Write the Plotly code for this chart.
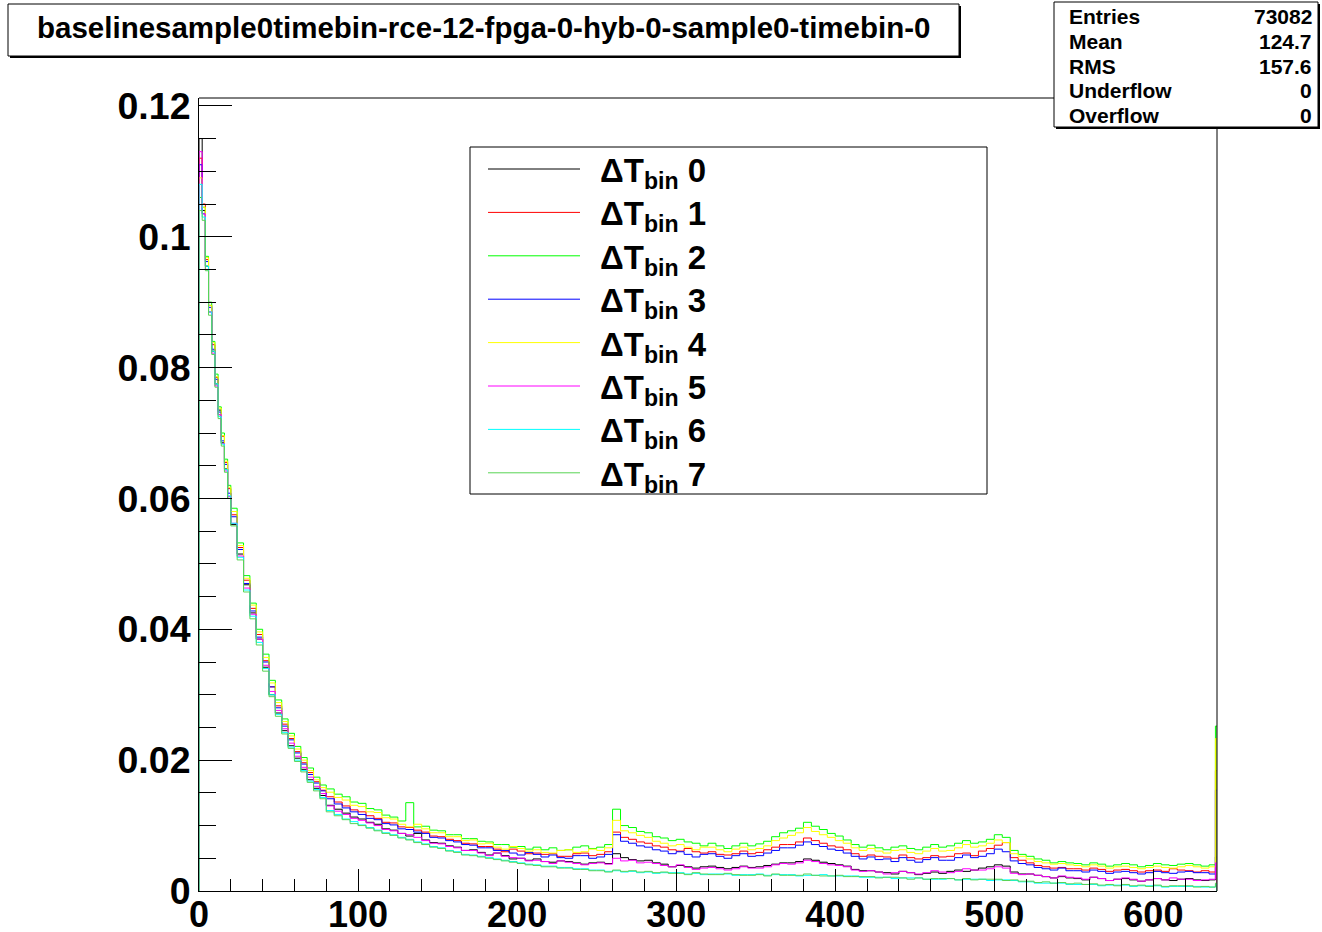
import plotly.graph_objects as go

# ---------------- data ----------------
EDGES = [0, 2, 4, 6, 8, 10, 12, 14, 16, 18, 20,
         24, 28, 32, 36, 40, 44, 48, 52, 56, 60, 64, 68, 72, 76, 80,
         85, 90, 95, 100, 105, 110, 115, 120, 125, 130, 135, 140, 145, 150, 155, 160,
         165, 170, 175, 180, 185, 190, 195, 200, 205, 210, 215, 220, 225, 230, 235, 240,
         245, 250, 255, 260, 265, 270, 275, 280, 285, 290, 295, 300, 305, 310, 315, 320,
         325, 330, 335, 340, 345, 350, 355, 360, 365, 370, 375, 380, 385, 390, 395, 400,
         405, 410, 415, 420, 425, 430, 435, 440, 445, 450, 455, 460, 465, 470, 475, 480,
         485, 490, 495, 500, 505, 510, 515, 520, 525, 530, 535, 540, 545, 550, 555, 560,
         565, 570, 575, 580, 585, 590, 595, 600, 605, 610, 615, 620, 625, 630, 635, 639, 640]

UNIT = 1e-4  # values below are in units of 1e-4

DT0 = [1150, 1040, 955, 895, 825, 775, 735, 685, 645, 600,
       560, 515, 468, 425, 385, 342, 300, 272, 245, 222, 203, 186, 170, 157, 146,
       131, 125, 119, 113, 110, 105, 102, 95, 93, 88, 84, 88, 78, 74, 73, 69, 67, 62,
       63, 59, 55, 58, 54, 49, 50, 47, 49, 45, 44, 46, 45, 43, 41, 43, 44, 42,
       57, 51, 48, 46, 47, 43, 41, 37, 39, 37, 35, 37, 38, 36, 34, 36, 38, 36, 37, 39,
       41, 43, 43, 45, 49, 47, 44, 42, 40, 38, 33, 31, 31, 29, 28, 26, 30, 28, 25, 27,
       29, 27, 30, 32, 30, 32, 35, 37, 40, 38, 29, 26, 26, 24, 22, 20, 22, 20, 19, 17,
       21, 19, 16, 18, 19, 17, 15, 17, 19, 17, 16, 18, 19, 17, 16, 17, 52]
DT1 = [1120, 1050, 965, 885, 835, 785, 728, 695, 655, 615,
       575, 525, 475, 432, 392, 352, 312, 283, 255, 233, 213, 196, 181, 167, 154,
       144, 136, 130, 124, 121, 115, 111, 105, 104, 98, 97, 93, 90, 84, 83, 79, 77, 73,
       72, 68, 68, 64, 60, 64, 61, 57, 58, 56, 57, 53, 53, 57, 58, 54, 56, 60,
       90, 82, 79, 75, 73, 69, 67, 63, 61, 65, 60, 58, 60, 56, 55, 57, 61, 57, 59, 63,
       67, 71, 71, 75, 81, 77, 73, 69, 67, 63, 57, 53, 55, 53, 52, 50, 55, 51, 49, 51,
       54, 52, 53, 57, 58, 54, 61, 65, 70, 74, 51, 47, 43, 39, 37, 35, 36, 34, 34, 32,
       35, 33, 30, 32, 33, 31, 29, 31, 32, 30, 34, 32, 31, 29, 31, 29, 184]
DT2 = [1060, 1045, 970, 900, 840, 790, 740, 700, 660, 620,
       585, 532, 482, 440, 400, 362, 322, 292, 263, 241, 221, 204, 188, 174, 162,
       156, 148, 144, 136, 134, 126, 124, 116, 113, 107, 135, 98, 99, 93, 92, 86, 86, 80,
       80, 76, 75, 71, 71, 67, 68, 64, 67, 63, 66, 62, 63, 67, 69, 65, 67, 71,
       125, 100, 97, 91, 89, 83, 81, 77, 79, 75, 73, 69, 73, 69, 65, 69, 73, 69, 72, 76,
       83, 89, 92, 96, 105, 99, 94, 88, 84, 78, 71, 67, 70, 66, 63, 67, 69, 65, 63, 67,
       71, 67, 69, 73, 77, 73, 75, 79, 86, 82, 62, 56, 53, 49, 47, 43, 45, 43, 42, 40,
       43, 41, 38, 40, 42, 40, 37, 39, 42, 40, 39, 41, 42, 40, 38, 40, 252]
DT3 = [1110, 1035, 962, 892, 828, 782, 732, 688, 652, 608,
       572, 522, 470, 428, 388, 350, 312, 280, 252, 231, 211, 194, 178, 165, 153,
       141, 133, 127, 121, 117, 111, 109, 103, 101, 95, 94, 90, 88, 82, 81, 77, 75, 71,
       70, 66, 66, 62, 62, 58, 55, 59, 56, 52, 55, 51, 50, 54, 54, 50, 52, 56,
       86, 76, 73, 69, 67, 63, 61, 57, 60, 56, 52, 56, 57, 53, 50, 54, 57, 53, 54, 58,
       62, 66, 66, 70, 75, 71, 68, 64, 62, 58, 53, 49, 52, 48, 49, 45, 51, 47, 44, 48,
       51, 47, 47, 51, 55, 51, 53, 57, 64, 60, 46, 42, 40, 36, 34, 32, 35, 31, 31, 29,
       32, 30, 27, 29, 30, 28, 26, 28, 30, 28, 27, 29, 30, 28, 28, 26, 154]
DT4 = [1090, 1045, 968, 895, 838, 786, 738, 696, 657, 617,
       580, 528, 478, 437, 396, 357, 318, 288, 259, 237, 217, 200, 184, 170, 158,
       151, 143, 139, 131, 129, 121, 120, 112, 110, 102, 98, 102, 95, 89, 89, 83, 83, 77,
       78, 72, 73, 67, 64, 68, 65, 61, 63, 59, 58, 62, 63, 59, 60, 64, 62, 66,
       108, 92, 89, 85, 82, 76, 73, 69, 71, 67, 63, 67, 67, 63, 60, 64, 67, 63, 65, 69,
       77, 81, 85, 89, 97, 91, 86, 82, 77, 73, 66, 62, 65, 61, 58, 62, 63, 59, 57, 61,
       65, 61, 62, 66, 71, 67, 69, 73, 78, 74, 57, 53, 49, 45, 43, 41, 42, 40, 39, 37,
       40, 38, 35, 37, 38, 36, 34, 36, 38, 36, 35, 37, 39, 37, 35, 37, 233]
DT5 = [1130, 1035, 950, 885, 822, 772, 728, 684, 642, 603,
       562, 512, 463, 423, 385, 345, 305, 276, 248, 226, 206, 189, 174, 160, 149,
       130, 122, 117, 111, 108, 104, 100, 94, 92, 88, 86, 82, 77, 73, 72, 68, 66, 62,
       62, 58, 54, 58, 53, 51, 50, 46, 47, 45, 42, 46, 44, 42, 40, 42, 43, 41,
       50, 46, 47, 43, 44, 42, 39, 37, 40, 36, 33, 35, 36, 34, 32, 34, 37, 35, 35, 37,
       40, 42, 41, 43, 47, 45, 42, 40, 39, 37, 32, 30, 31, 29, 26, 28, 30, 28, 26, 28,
       31, 29, 28, 30, 34, 32, 32, 34, 37, 35, 27, 25, 26, 24, 22, 20, 23, 21, 20, 18,
       21, 19, 16, 18, 20, 18, 15, 17, 19, 17, 20, 18, 18, 16, 17, 18, 43]
DT6 = [1080, 1030, 955, 885, 825, 775, 725, 683, 644, 604,
       562, 510, 460, 420, 380, 340, 300, 270, 242, 220, 200, 184, 168, 155, 143,
       123, 117, 110, 106, 101, 97, 93, 89, 86, 82, 79, 75, 72, 68, 66, 62, 60, 56,
       55, 53, 51, 49, 47, 45, 43, 41, 40, 38, 38, 36, 36, 34, 34, 32, 32, 30,
       31, 29, 30, 28, 29, 27, 28, 28, 28, 26, 27, 25, 26, 26, 26, 24, 25, 25, 26, 24,
       25, 25, 25, 23, 24, 24, 25, 23, 23, 23, 23, 21, 21, 21, 21, 19, 20, 20, 20, 18,
       18, 18, 19, 17, 18, 18, 18, 16, 17, 17, 16, 14, 14, 12, 12, 12, 12, 10, 10, 10,
       10, 8, 9, 9, 9, 7, 8, 8, 8, 6, 7, 7, 7, 7, 6, 6, 10]
DT7 = [1040, 1025, 948, 880, 820, 770, 722, 680, 640, 600,
       558, 506, 457, 416, 376, 336, 297, 267, 240, 218, 198, 182, 166, 153, 141,
       121, 115, 109, 103, 100, 96, 92, 88, 85, 81, 78, 74, 71, 67, 65, 61, 59, 55,
       54, 52, 50, 48, 46, 44, 42, 40, 39, 37, 37, 35, 35, 33, 33, 31, 31, 29,
       32, 30, 31, 29, 30, 28, 29, 27, 27, 25, 28, 26, 25, 25, 27, 25, 24, 24, 25, 23,
       26, 24, 24, 24, 26, 24, 23, 23, 24, 22, 22, 22, 22, 20, 21, 21, 20, 18, 20, 18,
       19, 19, 19, 17, 19, 17, 18, 18, 18, 16, 17, 15, 15, 13, 14, 12, 13, 11, 12, 10,
       11, 9, 10, 8, 10, 8, 9, 7, 9, 7, 8, 8, 8, 6, 7, 6, 12]

SERIES = [DT0, DT1, DT2, DT3, DT4, DT5, DT6, DT7]
LABELS = ["0", "1", "2", "3", "4", "5", "6", "7"]
COLORS = ["#000000", "#ff0000", "#00ff00", "#0000ff", "#ffff00", "#ff00ff", "#00ffff", "#59d454"]

TITLE = "baselinesample0timebin-rce-12-fpga-0-hyb-0-sample0-timebin-0"
STATS = [("Entries", "73082"), ("Mean", "124.7"), ("RMS", "157.6"),
         ("Underflow", "0"), ("Overflow", "0")]

# ---------------- layout helpers (pixel -> paper) ----------------
L, R, T, B = 199, 1217, 98, 891
W, H = 1322, 932


def px(x):
    return (x - L) / (R - L)


def py(y):
    return (B - y) / (B - T)


FONT = "Liberation Sans, Arial, Helvetica, sans-serif"

fig = go.Figure()
for vals, col, lab in zip(SERIES, COLORS, LABELS):
    assert len(vals) == len(EDGES) - 1, (lab, len(vals), len(EDGES) - 1)
    xs = [EDGES[0]] + EDGES[:-1] + [EDGES[-1]]
    ys = [0] + [v * UNIT for v in vals] + [0]
    fig.add_trace(go.Scatter(x=xs, y=ys, mode="lines", line=dict(color=col, width=1, shape="hv"),
                             name="ΔT bin " + lab, showlegend=False, hoverinfo="skip"))

shapes = []
annotations = []

# frame top/right
shapes.append(dict(type="line", xref="paper", yref="paper", x0=0, x1=1, y0=1, y1=1,
                   line=dict(color="black", width=1), layer="above"))
shapes.append(dict(type="line", xref="paper", yref="paper", x0=1, x1=1, y0=0, y1=1,
                   line=dict(color="black", width=1), layer="above"))


def box(x0, y0, x1, y1, shadow=True):
    if shadow:
        shapes.append(dict(type="rect", xref="paper", yref="paper",
                           x0=px(x0 + 2), x1=px(x1 + 2), y0=py(y0 + 2), y1=py(y1 + 2),
                           fillcolor="black", line=dict(width=0), layer="above"))
    shapes.append(dict(type="rect", xref="paper", yref="paper",
                       x0=px(x0), x1=px(x1), y0=py(y0), y1=py(y1),
                       fillcolor="white", line=dict(color="black", width=1), layer="above"))


# title box
box(8, 4, 959, 56)
annotations.append(dict(x=px(483), y=py(28), xref="paper", yref="paper", text=TITLE,
                        showarrow=False, xanchor="center", yanchor="middle",
                        font=dict(family=FONT, size=29.5, color="black", weight="bold")))

# stats box
box(1054, 2, 1318, 127)
for i, (k, v) in enumerate(STATS):
    yy = 16.5 + i * 24.8
    annotations.append(dict(x=px(1067), y=py(yy), xref="paper", yref="paper", text=k,
                            showarrow=False, xanchor="left", yanchor="middle",
                            font=dict(family=FONT, size=21, color="black", weight="bold")))
    annotations.append(dict(x=px(1314), y=py(yy), xref="paper", yref="paper", text=v,
                            showarrow=False, xanchor="right", yanchor="middle",
                            font=dict(family=FONT, size=21, color="black", weight="bold")))

# legend box
box(470, 147, 987, 494, shadow=False)
for i, (col, lab) in enumerate(zip(COLORS, LABELS)):
    yy = 169 + i * 43.4
    shapes.append(dict(type="line", xref="paper", yref="paper", x0=px(488), x1=px(580),
                       y0=py(yy), y1=py(yy), line=dict(color=col, width=1), layer="above"))
    annotations.append(dict(x=px(598), y=py(yy + 4), xref="paper", yref="paper",
                            text="ΔT<sub>bin</sub> " + lab, showarrow=False,
                            xanchor="left", yanchor="middle",
                            font=dict(family=FONT, size=33, color="black", weight="bold")))

tickfont = dict(family=FONT, size=37.5, color="black", weight="bold")
xtickfont = dict(family=FONT, size=36, color="black", weight="bold")

fig.update_layout(
    width=W, height=H,
    margin=dict(l=L, r=W - R, t=T, b=H - B, pad=0),
    plot_bgcolor="white", paper_bgcolor="white",
    showlegend=False,
    shapes=shapes, annotations=annotations,
    xaxis=dict(range=[0, 640], showgrid=False, zeroline=False, showline=True, automargin=False,
               linecolor="black", linewidth=1, ticks="inside", ticklen=22, tickwidth=1,
               tickcolor="black", tick0=0, dtick=100, tickfont=xtickfont,
               ticklabelstandoff=-8,
               minor=dict(ticks="inside", ticklen=12, dtick=20, tickcolor="black", tickwidth=1,
                          showgrid=False)),
    yaxis=dict(range=[0, 0.1212], showgrid=False, zeroline=False, showline=True, automargin=False,
               linecolor="black", linewidth=1, ticks="inside", ticklen=33, tickwidth=1,
               tickcolor="black", tick0=0, dtick=0.02, tickfont=tickfont,
               minor=dict(ticks="inside", ticklen=17, dtick=0.005, tickcolor="black", tickwidth=1,
                          showgrid=False)),
)

fig.write_html("out.html")
